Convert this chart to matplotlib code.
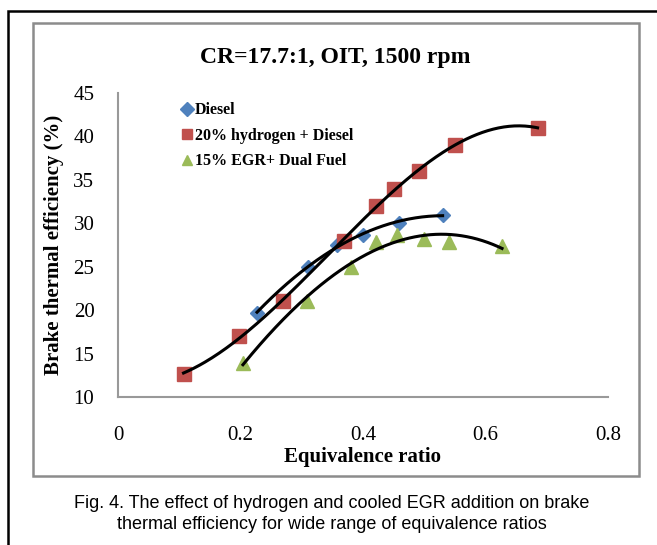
import numpy as np
import matplotlib.pyplot as plt
from matplotlib.patches import Rectangle

# equivalence ratio / brake thermal efficiency (%)
diesel_phi = [0.227, 0.310, 0.357, 0.400, 0.459, 0.530]
diesel_bte = [19.7, 25.0, 27.5, 28.7, 30.0, 31.0]

h2_phi = [0.107, 0.198, 0.269, 0.369, 0.421, 0.450, 0.491, 0.551, 0.685]
h2_bte = [12.7, 17.0, 21.0, 28.0, 32.0, 34.0, 36.0, 39.0, 41.0]

egr_phi = [0.204, 0.309, 0.380, 0.422, 0.456, 0.500, 0.541, 0.627]
egr_bte = [13.9, 21.0, 25.0, 27.9, 28.7, 28.2, 27.9, 27.4]

labels = ["Diesel", "20% hydrogen + Diesel", "15% EGR+ Dual Fuel"]
x_ticks = [0, 0.2, 0.4, 0.6, 0.8]
y_ticks = [10, 15, 20, 25, 30, 35, 40, 45]

SERIF = ["Liberation Serif", "DejaVu Serif"]
W, H = 657, 545

fig = plt.figure(figsize=(W / 100, H / 100), dpi=100)
ax = fig.add_axes([118 / W, 1 - 397 / H, 490 / W, 304 / H])

series = [
    (diesel_phi, diesel_bte, "D", "#4F81BD", 7, 2),
    (h2_phi, h2_bte, "s", "#C0504D", 10, 3),
    (egr_phi, egr_bte, "^", "#9BBB59", 10, 3),
]
for (px, py, mk, col, ms, deg), lab in zip(series, labels):
    ax.plot(px, py, ls="none", marker=mk, color=col, ms=ms, mec=col, label=lab, zorder=2)
    # Excel-style polynomial trendline
    coef = np.polyfit(px, py, deg)
    xs = np.linspace(min(px), max(px), 200)
    ax.plot(xs, np.polyval(coef, xs), color="black", lw=2.2, zorder=3)

ax.set_xlim(0, 0.8)
ax.set_ylim(10, 45)
ax.set_xticks(x_ticks)
ax.set_xticklabels([f"{v:g}" for v in x_ticks], family=SERIF, fontsize=15)
ax.set_yticks(y_ticks)
ax.set_yticklabels([str(v) for v in y_ticks], family=SERIF, fontsize=15)
ax.tick_params(axis="x", length=0, pad=21)
ax.tick_params(axis="y", length=0, pad=17)
for s in ["top", "right"]:
    ax.spines[s].set_visible(False)
for s in ["left", "bottom"]:
    ax.spines[s].set_color("#999999")
    ax.spines[s].set_linewidth(1.5)

ax.set_xlabel("Equivalence ratio", family=SERIF, fontsize=15, fontweight="bold", labelpad=1)
ax.set_ylabel("Brake thermal efficiency (%)", family=SERIF, fontsize=15, fontweight="bold", labelpad=7)

leg = ax.legend(loc="upper left", bbox_to_anchor=(0.104, 1.012), frameon=False,
                handlelength=0.6, handletextpad=0.2, labelspacing=0.6, borderpad=0.3,
                prop={"family": SERIF, "weight": "bold", "size": 11.5})
for h in leg.legend_handles:
    h.set_markersize(7)

fig.text(335 / W, 1 - 57 / H, "CR=17.7:1, OIT, 1500 rpm", family=SERIF,
         fontsize=17, fontweight="bold", ha="center", va="center")

# outer document frame and inner chart frame
fig.add_artist(Rectangle((8 / W, -0.1), 1.2, 1 - 11 / H + 0.1, transform=fig.transFigure,
                         fill=False, ec="black", lw=1.8))
fig.add_artist(Rectangle((33 / W, 1 - 476 / H), 606 / W, 453 / H, transform=fig.transFigure,
                         fill=False, ec="#8c8c8c", lw=1.8))

fig.text(332 / W, 1 - 514 / H,
         "Fig. 4. The effect of hydrogen and cooled EGR addition on brake\n"
         "thermal efficiency for wide range of equivalence ratios",
         family=["Liberation Sans", "DejaVu Sans"], fontsize=13, ha="center", va="center",
         linespacing=1.25)

fig.savefig("out.png", dpi=100)
